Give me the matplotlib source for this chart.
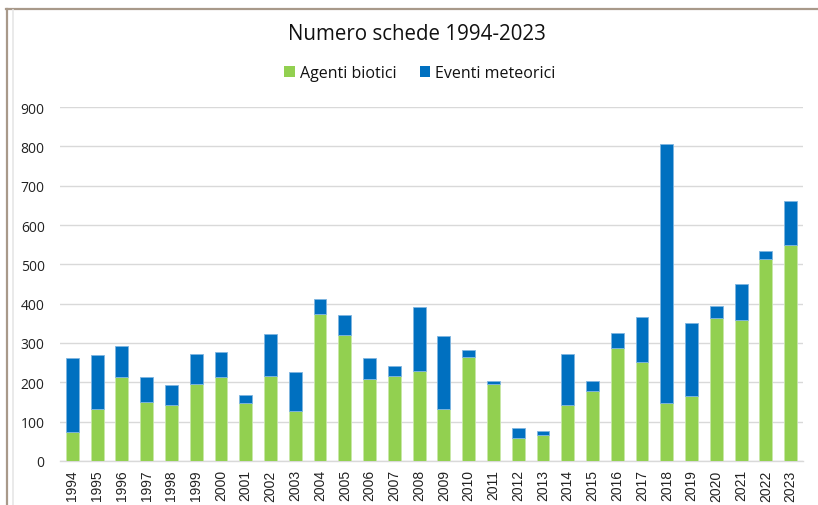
import matplotlib
matplotlib.use("Agg")
import matplotlib.pyplot as plt
from matplotlib.lines import Line2D
from matplotlib.patches import Patch
import numpy as np

years = [str(y) for y in range(1994, 2024)]
agenti_biotici = [74, 133, 213, 151, 142, 195, 213, 147, 216, 128,
                  373, 321, 209, 217, 230, 132, 265, 195, 58, 66,
                  142, 179, 288, 251, 148, 166, 363, 359, 514, 548]
totale = [263, 270, 293, 213, 192, 271, 278, 168, 324, 227,
          412, 370, 263, 241, 391, 317, 283, 203, 84, 77,
          271, 203, 325, 367, 806, 350, 394, 450, 533, 662]
eventi_meteorici = [t - a for t, a in zip(totale, agenti_biotici)]

green = "#92d050"
blue = "#0070c0"

fig = plt.figure(figsize=(8.18, 5.06), dpi=100)
ax = fig.add_axes([60/818, 1-462/506, (803-60)/818, (462-108)/506])

x = np.arange(len(years))
ax.bar(x, agenti_biotici, width=0.52, color=green, edgecolor="#c8e8a8", linewidth=0.6, zorder=3)
ax.bar(x, eventi_meteorici, bottom=agenti_biotici, width=0.52, color=blue,
       edgecolor="#7fb5e0", linewidth=0.6, zorder=3)

ax.set_xlim(-0.5, len(years) - 0.5)
ax.set_ylim(0, 900)
ax.set_yticks(range(0, 901, 100))
ax.yaxis.grid(True, color="#d9d9d9", linewidth=1.0, zorder=0)
ax.set_axisbelow(True)
for s in ["top", "right", "left"]:
    ax.spines[s].set_visible(False)
ax.spines["bottom"].set_color("#d9d9d9")
ax.spines["bottom"].set_linewidth(1.0)
ax.tick_params(axis="both", length=0)
ax.set_xticks(x)
ax.set_xticklabels(years, rotation=90, fontsize=10, family="Liberation Sans", color="#222222")
ax.tick_params(axis="x", pad=6)
ax.tick_params(axis="y", pad=11)
for lab in ax.get_yticklabels():
    lab.set_fontsize(10)
    lab.set_family("Open Sans")
    lab.set_color("#222222")

fig.text(417/818, 1-35/506, "Numero schede 1994-2023", ha="center", va="center",
         fontsize=14.8, family="Open Sans", color="#111111")

handles = [Patch(facecolor=green, edgecolor="none"), Patch(facecolor=blue, edgecolor="none")]
leg = fig.legend(handles, ["Agenti biotici", "Eventi meteorici"], loc="center",
                 bbox_to_anchor=(420/818, 1-74/506), ncol=2, frameon=False,
                 prop={"family": "Open Sans", "size": 11.5},
                 handlelength=0.65, handleheight=0.65, handletextpad=0.3, columnspacing=1.5)
for t in leg.get_texts():
    t.set_color("#111111")

# outer frame lines
fig.add_artist(Line2D([6/818, 1], [1-9.5/506, 1-9.5/506], color="#a8998a", linewidth=1.6))
fig.add_artist(Line2D([7/818, 7/818], [0, 1-9.5/506], color="#a8998a", linewidth=1.6))
fig.add_artist(Line2D([12.5/818, 12.5/818], [0, 1-11/506], color="#e6e6e6", linewidth=1.2))

fig.savefig("out.png", dpi=100)
